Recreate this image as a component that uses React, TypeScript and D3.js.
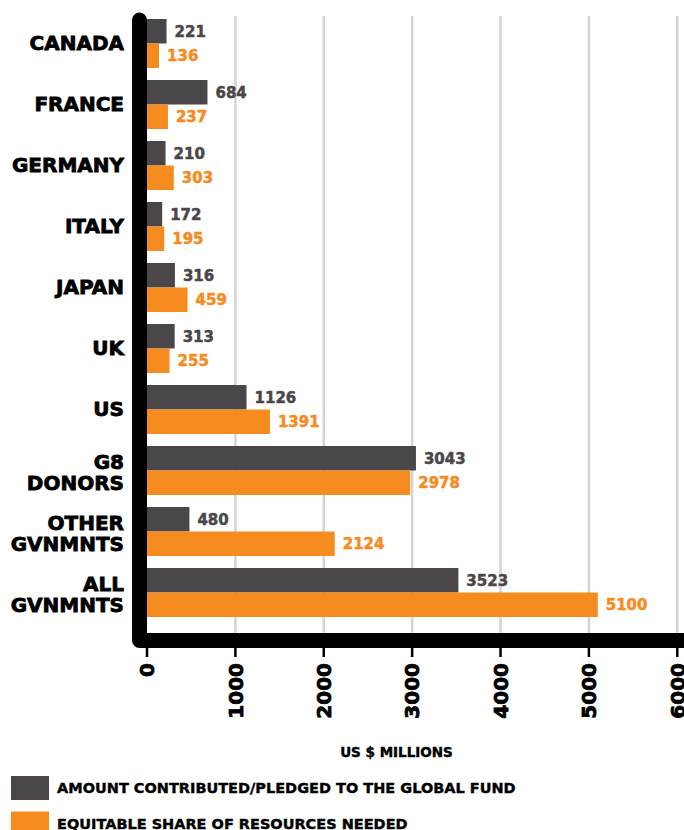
import React from "react";
import * as d3 from "d3";

const categories: string[][] = [
  ["CANADA"],
  ["FRANCE"],
  ["GERMANY"],
  ["ITALY"],
  ["JAPAN"],
  ["UK"],
  ["US"],
  ["G8", "DONORS"],
  ["OTHER", "GVNMNTS"],
  ["ALL", "GVNMNTS"],
];
const contributed = [221, 684, 210, 172, 316, 313, 1126, 3043, 480, 3523];
const equitableShare = [136, 237, 303, 195, 459, 255, 1391, 2978, 2124, 5100];
const xTicks = [0, 1000, 2000, 3000, 4000, 5000, 6000];
const seriesNames = [
  "AMOUNT CONTRIBUTED/PLEDGED TO THE GLOBAL FUND",
  "EQUITABLE SHARE OF RESOURCES NEEDED",
];
const axisTitle = "US $ MILLIONS";

const W = 684;
const H = 830;
const DARK = "#4b4649";
const ORANGE = "#f68b1f";
const FONT = "'DejaVu Sans', Verdana, sans-serif";

export default function App() {
  const x = d3.scaleLinear().domain([0, 6000]).range([147, 677.3]);
  const keys = categories.map((c) => c.join(" "));
  const y = d3
    .scaleBand<string>()
    .domain(keys)
    .range([19, 617])
    .paddingInner(12 / 61)
    .paddingOuter(0);
  const sub = d3.scaleBand<string>().domain(["c", "e"]).range([0, y.bandwidth()]);
  const series = [
    { key: "c", values: contributed, color: DARK },
    { key: "e", values: equitableShare, color: ORANGE },
  ];
  const axisY = 640.5;
  const axisX = 139.5;

  return (
    <svg
      width={W}
      height={H}
      style={{ position: "absolute", left: 0, top: 0, background: "#fff" }}
      fontFamily={FONT}
      fontWeight="bold"
    >
      {/* gridlines */}
      {xTicks.slice(1).map((t) => (
        <line key={t} x1={x(t)} x2={x(t)} y1={16} y2={633} stroke="#d4d4d4" strokeWidth={2.5} />
      ))}
      {/* bars */}
      {keys.map((k, i) => (
        <g key={k} transform={`translate(0,${y(k)})`}>
          {series.map((s) => {
            const v = s.values[i];
            const by = sub(s.key)!;
            const bh = sub.bandwidth();
            return (
              <g key={s.key}>
                <rect x={x(0)} y={by} width={x(v) - x(0)} height={bh} fill={s.color} />
                <text
                  x={x(v) + 8}
                  y={by + bh / 2 + 5.5}
                  fontSize={15}
                  fill={s.color}
                  stroke={s.color}
                  strokeWidth={0.5}
                >
                  {v}
                </text>
              </g>
            );
          })}
          {categories[i].map((line, j) => {
            const n = categories[i].length;
            const c = y.bandwidth() / 2;
            const base = c + 6 + (j - (n - 1) / 2) * 21.5 + (n > 1 ? 3 : 0);
            return (
              <text
                key={j}
                x={124}
                y={base}
                textAnchor="end"
                fontSize={20}
                fill="#000"
                stroke="#000"
                strokeWidth={0.8}
              >
                {line}
              </text>
            );
          })}
        </g>
      ))}
      {/* axis */}
      <path
        d={`M${axisX},20 V${axisY} H${W + 20}`}
        fill="none"
        stroke="#000"
        strokeWidth={15}
        strokeLinecap="round"
        strokeLinejoin="round"
      />
      {xTicks.map((t) => (
        <g key={t}>
          <line x1={x(t)} x2={x(t)} y1={646} y2={657} stroke="#000" strokeWidth={2.5} />
          <text
            transform={`translate(${x(t) + 7.3},663) rotate(-90)`}
            textAnchor="end"
            fontSize={20}
            fill="#000"
            stroke="#000"
            strokeWidth={0.8}
          >
            {t}
          </text>
        </g>
      ))}
      <text x={396.5} y={757} textAnchor="middle" fontSize={13.5} fill="#000" stroke="#000" strokeWidth={0.4}>
        {axisTitle}
      </text>
      {/* legend */}
      {seriesNames.map((name, i) => (
        <g key={name} transform={`translate(0,${776 + i * 35.5})`}>
          <rect x={11} y={0} width={38} height={24} fill={i === 0 ? DARK : ORANGE} />
          <text x={57} y={17} fontSize={14.5} fill="#000" stroke="#000" strokeWidth={0.4}>
            {name}
          </text>
        </g>
      ))}
    </svg>
  );
}
